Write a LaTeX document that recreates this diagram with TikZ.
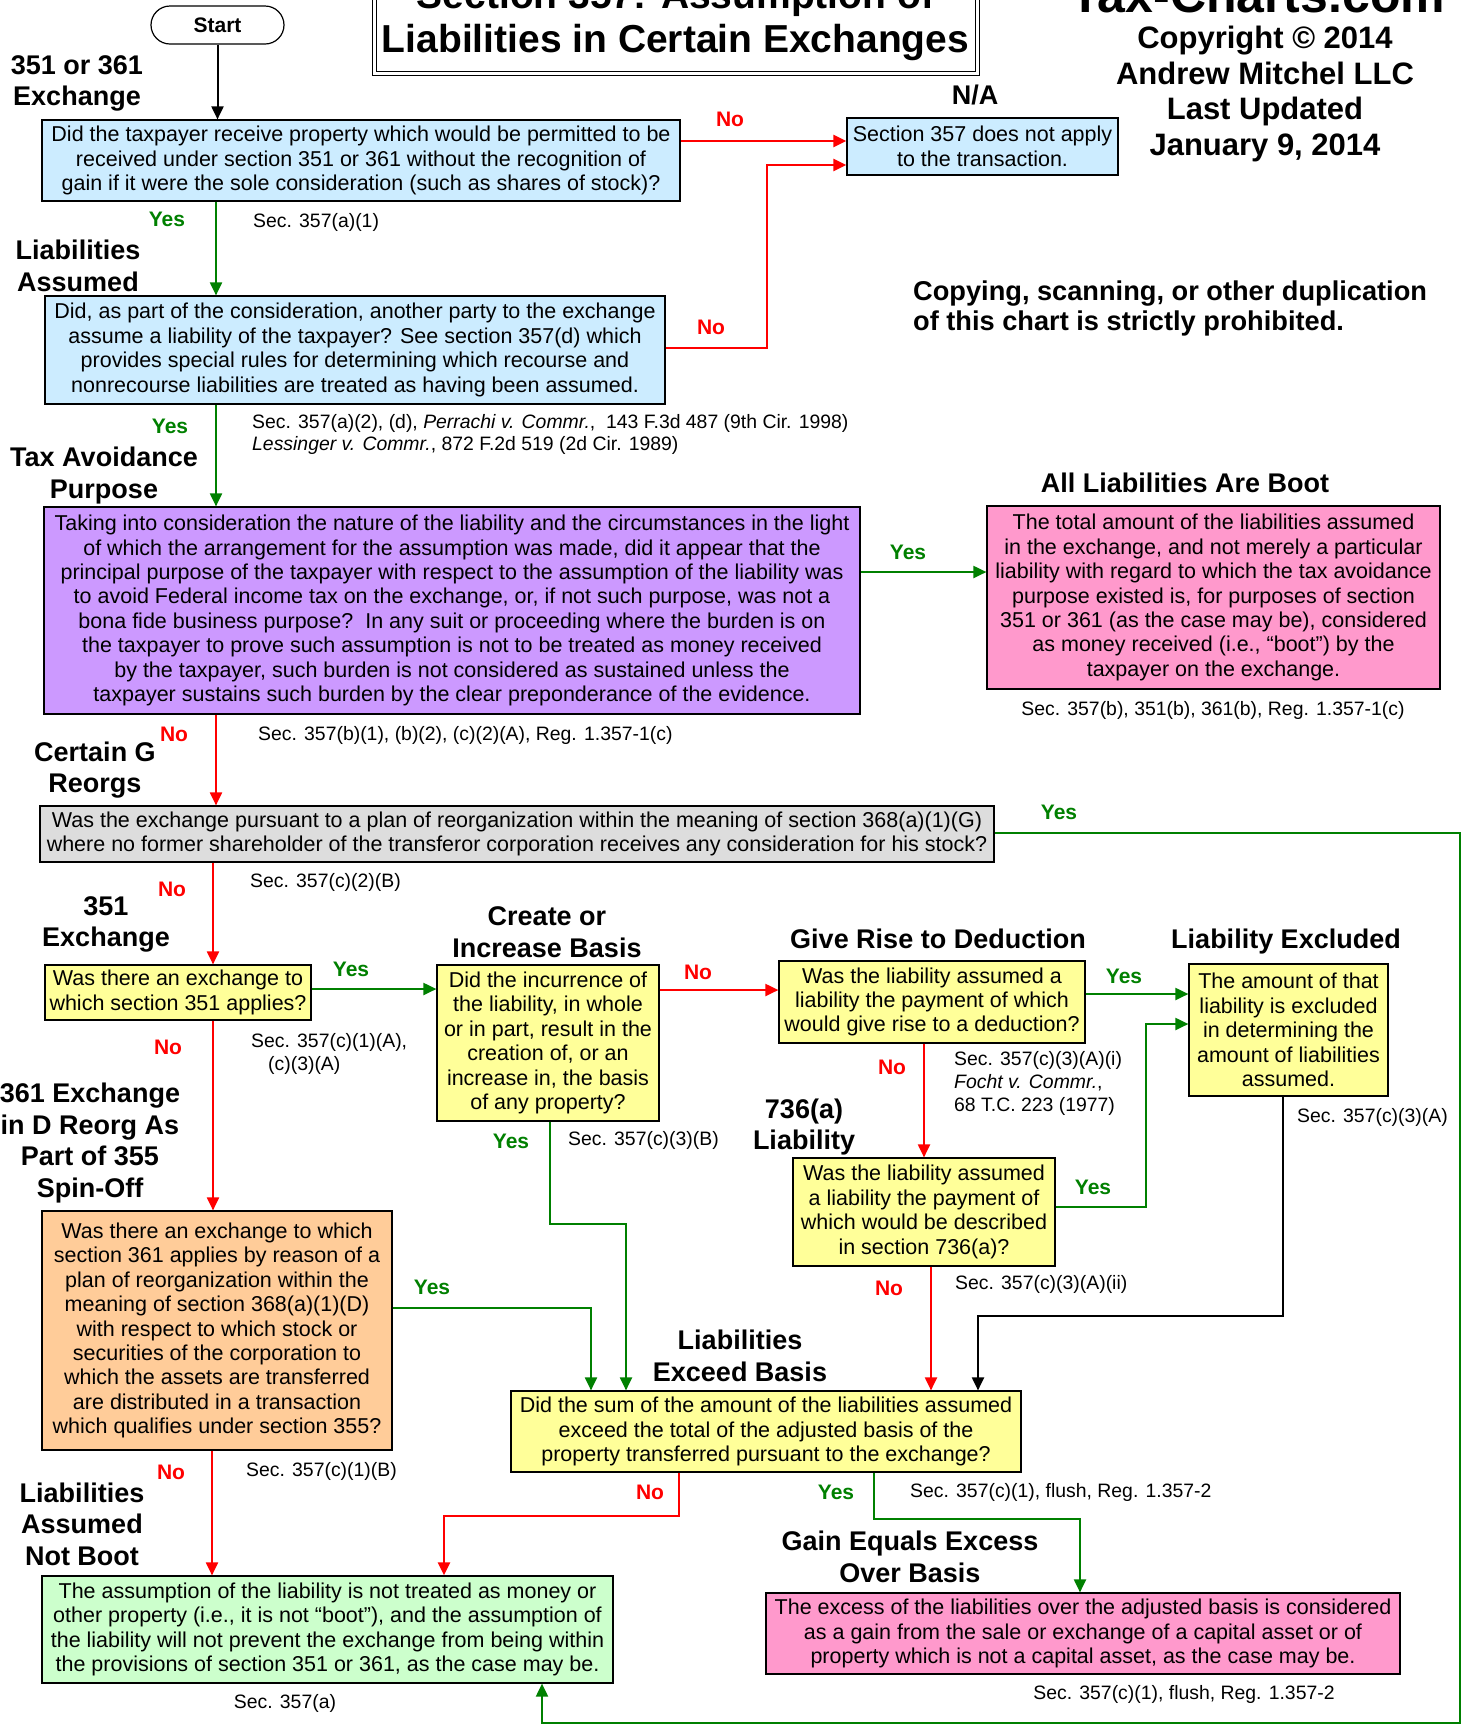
\documentclass[tikz,border=0pt]{standalone}
\usepackage{fontspec}
\setmainfont{Liberation Sans}
\usetikzlibrary{arrows.meta}
\definecolor{cblue}{HTML}{CCECFF}
\definecolor{cpurple}{HTML}{CC99FF}
\definecolor{cpink}{HTML}{FF99CC}
\definecolor{cgray}{HTML}{DDDDDD}
\definecolor{cyellow}{HTML}{FFFF99}
\definecolor{corange}{HTML}{FFCC99}
\definecolor{cgreen}{HTML}{CCFFCC}
\definecolor{lgreen}{HTML}{008000}
\definecolor{lred}{HTML}{FF0000}
\newcommand\bxf{\fontsize{21.5}{24.4}\selectfont}
\newcommand\hdf{\fontsize{27}{31.5}\selectfont\bfseries}
\newcommand\scf{\fontsize{19.4}{22.8}\selectfont}
\newcommand\ynf{\fontsize{21}{24}\selectfont\bfseries}
\begin{document}
\begin{tikzpicture}[x=1pt,y=-1pt,
 box/.style={draw=black, line width=1.2pt, align=center, inner sep=2pt, font=\bxf},
 hdr/.style={align=center, font=\hdf, inner sep=0pt},
 sec/.style={align=left, font=\scf, anchor=west, inner sep=0pt},
 secc/.style={align=center, font=\scf, inner sep=0pt},
 yes/.style={font=\ynf, text=lgreen, inner sep=0pt},
 no/.style={font=\ynf, text=lred, inner sep=0pt},
 gline/.style={draw=lgreen, line width=2pt, -{Triangle[length=13pt,width=12pt]}},
 rline/.style={draw=lred, line width=2pt, -{Triangle[length=13pt,width=12pt]}},
 kline/.style={draw=black, line width=2pt, -{Triangle[length=13pt,width=12pt]}},
]
\path[use as bounding box] (0,0) rectangle (1466,1725);
\clip (0,0) rectangle (1466,1725);
\fill[white] (0,0) rectangle (1466,1725);

% ---- title area ----
\node[draw, fill=white, double, double distance=3pt, line width=1pt, minimum width=603, minimum height=106, align=center, font=\fontsize{39}{44}\selectfont\bfseries, inner sep=0pt] (title) at (675.5,20) {Section 357: Assumption of\\Liabilities in Certain Exchanges};
\node[font=\fontsize{50}{56}\selectfont\bfseries, anchor=base, inner sep=0pt] (site) at (1258,12) {Tax-Charts.com};
\node[align=center, font=\fontsize{31}{35.7}\selectfont\bfseries, inner sep=0pt] (copy) at (1265,94) {Copyright © 2014\\Andrew Mitchel LLC\\Last Updated\\January 9, 2014};
\node[align=left, font=\fontsize{27.2}{30}\selectfont\bfseries, anchor=west, inner sep=0pt] (warn) at (913,308) {Copying, scanning, or other duplication\\of this chart is strictly prohibited.};

% ---- boxes ----
\node[draw=black, line width=1.2pt, fill=white, rounded corners=19pt, minimum width=133, minimum height=38, font=\ynf] (start) at (217.5,25) {Start};
\node[box, fill=cblue, minimum width=271, minimum height=57] (na) at (982.5,146.5) {Section 357 does not apply\\to the transaction.};
\node[box, fill=cblue, minimum width=638, minimum height=81] (b1) at (361,160.5) {Did the taxpayer receive property which would be permitted to be\\received under section 351 or 361 without the recognition of\\gain if it were the sole consideration (such as shares of stock)?};
\node[box, fill=cblue, minimum width=620, minimum height=108] (b2) at (355,350) {Did, as part of the consideration, another party to the exchange\\assume a liability of the taxpayer? See section 357(d) which\\provides special rules for determining which recourse and\\nonrecourse liabilities are treated as having been assumed.};
\node[box, fill=cpurple, minimum width=816, minimum height=207] (b3) at (452,610.5) {Taking into consideration the nature of the liability and the circumstances in the light\\of which the arrangement for the assumption was made, did it appear that the\\principal purpose of the taxpayer with respect to the assumption of the liability was\\to avoid Federal income tax on the exchange, or, if not such purpose, was not a\\bona fide business purpose?\ \ In any suit or proceeding where the burden is on\\the taxpayer to prove such assumption is not to be treated as money received\\by the taxpayer, such burden is not considered as sustained unless the\\taxpayer sustains such burden by the clear preponderance of the evidence.};
\node[box, fill=cpink, minimum width=453, minimum height=183] (boot) at (1213.5,597.5) {The total amount of the liabilities assumed\\in the exchange, and not merely a particular\\liability with regard to which the tax avoidance\\purpose existed is, for purposes of section\\351 or 361 (as the case may be), considered\\as money received (i.e., “boot”) by the\\taxpayer on the exchange.};
\node[box, fill=cgray, minimum width=954, minimum height=56] (g) at (517,834) {Was the exchange pursuant to a plan of reorganization within the meaning of section 368(a)(1)(G)\\where no former shareholder of the transferor corporation receives any consideration for his stock?};
\node[box, fill=cyellow, minimum width=266, minimum height=55] (s351) at (178,992.5) {Was there an exchange to\\which section 351 applies?};
\node[box, fill=cyellow, minimum width=222, minimum height=156] (cib) at (548,1043) {Did the incurrence of\\the liability, in whole\\or in part, result in the\\creation of, or an\\increase in, the basis\\of any property?};
\node[box, fill=cyellow, minimum width=306, minimum height=82] (grd) at (932,1002) {Was the liability assumed a\\liability the payment of which\\would give rise to a deduction?};
\node[box, fill=cyellow, minimum width=199, minimum height=132] (le) at (1288.5,1030) {The amount of that\\liability is excluded\\in determining the\\amount of liabilities\\assumed.};
\node[box, fill=cyellow, minimum width=262, minimum height=108] (l736) at (924,1212) {Was the liability assumed\\a liability the payment of\\which would be described\\in section 736(a)?};
\node[box, fill=corange, minimum width=350, minimum height=239] (d361) at (217,1330.5) {Was there an exchange to which\\section 361 applies by reason of a\\plan of reorganization within the\\meaning of section 368(a)(1)(D)\\with respect to which stock or\\securities of the corporation to\\which the assets are transferred\\are distributed in a transaction\\which qualifies under section 355?};
\node[box, fill=cyellow, minimum width=510, minimum height=81] (leb) at (766,1431.5) {Did the sum of the amount of the liabilities assumed\\exceed the total of the adjusted basis of the\\property transferred pursuant to the exchange?};
\node[box, fill=cpink, minimum width=634, minimum height=81] (gain) at (1083,1633.5) {The excess of the liabilities over the adjusted basis is considered\\as a gain from the sale or exchange of a capital asset or of\\property which is not a capital asset, as the case may be.};
\node[box, fill=cgreen, minimum width=571, minimum height=107] (nb) at (327.5,1629.5) {The assumption of the liability is not treated as money or\\other property (i.e., it is not “boot”), and the assumption of\\the liability will not prevent the exchange from being within\\the provisions of section 351 or 361, as the case may be.};

% ---- headers ----
\node[hdr] (hna) at (975,95) {N/A};
\node[hdr] (h1) at (77,83.5) {351 or 361\\Exchange};
\node[hdr] (h2) at (78,266) {Liabilities\\Assumed};
\node[hdr] (h3) at (104,475.5) {Tax Avoidance\\Purpose};
\node[hdr] (h4) at (1185,483) {All Liabilities Are Boot};
\node[hdr] (h5) at (95,770) {Certain G\\Reorgs};
\node[hdr] (h6) at (106,924.5) {351\\Exchange};
\node[hdr] (h7) at (547,932) {Create or\\Increase Basis};
\node[hdr] (h8) at (938,939) {Give Rise to Deduction};
\node[hdr] (h9) at (1286,942) {Liability Excluded};
\node[hdr] (h10) at (804,1127) {736(a)\\Liability};
\node[hdr] (h11) at (90,1143) {361 Exchange\\in D Reorg As\\Part of 355\\Spin-Off};
\node[hdr] (h12) at (740,1356) {Liabilities\\Exceed Basis};
\node[hdr] (h13) at (82,1524) {Liabilities\\Assumed\\Not Boot};
\node[hdr] (h14) at (910,1557) {Gain Equals Excess\\Over Basis};

% ---- citations ----
\node[sec] (c1) at (253,222) {Sec. 357(a)(1)};
\node[sec] (c2) at (252,434.5) {Sec. 357(a)(2), (d), \textit{Perrachi v. Commr.},\ \ 143 F.3d 487 (9th Cir. 1998)\\\textit{Lessinger v. Commr.}, 872 F.2d 519 (2d Cir. 1989)};
\node[secc] (c3) at (1213,710) {Sec. 357(b), 351(b), 361(b), Reg. 1.357-1(c)};
\node[sec] (c4) at (258,735) {Sec. 357(b)(1), (b)(2), (c)(2)(A), Reg. 1.357-1(c)};
\node[sec] (c5) at (250,882) {Sec. 357(c)(2)(B)};
\node[sec] (c6) at (251,1054) {Sec. 357(c)(1)(A),\\\hspace{17pt}(c)(3)(A)};
\node[sec] (c7) at (568,1140) {Sec. 357(c)(3)(B)};
\node[sec] (c8) at (954,1083.5) {Sec. 357(c)(3)(A)(i)\\\textit{Focht v. Commr.},\\68 T.C. 223 (1977)};
\node[sec] (c9) at (1297,1117) {Sec. 357(c)(3)(A)};
\node[sec] (c10) at (955,1284) {Sec. 357(c)(3)(A)(ii)};
\node[sec] (c11) at (246,1471) {Sec. 357(c)(1)(B)};
\node[sec] (c12) at (910,1492) {Sec. 357(c)(1), flush, Reg. 1.357-2};
\node[secc] (c13) at (1184,1694) {Sec. 357(c)(1), flush, Reg. 1.357-2};
\node[secc] (c14) at (285,1703) {Sec. 357(a)};

% ---- yes / no labels ----
\node[no] (n1) at (730,119) {No};
\node[no] (n2) at (711,327) {No};
\node[yes] (y1) at (167,219) {Yes};
\node[yes] (y2) at (170,426) {Yes};
\node[yes] (y3) at (908,552) {Yes};
\node[no] (n3) at (174,734) {No};
\node[yes] (y4) at (1059,812) {Yes};
\node[no] (n4) at (172,889) {No};
\node[yes] (y5) at (351,969) {Yes};
\node[no] (n5) at (168,1047) {No};
\node[no] (n6) at (698,972) {No};
\node[yes] (y6) at (1124,976) {Yes};
\node[no] (n7) at (892,1067) {No};
\node[yes] (y7) at (1093,1187) {Yes};
\node[no] (n8) at (889,1288) {No};
\node[yes] (y8) at (511,1141) {Yes};
\node[yes] (y9) at (432,1287) {Yes};
\node[no] (n9) at (171,1472) {No};
\node[no] (n10) at (650,1492) {No};
\node[yes] (y10) at (836,1492) {Yes};

% ---- connectors ----
\draw[kline] (start.south) -- (start.south |- b1.north);
\draw[rline, line width=2.6pt] (b1.east |- 0,141) -- (na.west |- 0,141);
\draw[rline, line width=2.6pt] (b2.east |- 0,348) -- (767,348) -- (767,165) -- (na.west |- 0,165);
\draw[gline] (b1.south -| 216,0) -- (b2.north -| 216,0);
\draw[gline] (b2.south -| 216,0) -- (b3.north -| 216,0);
\draw[gline] (b3.east |- 0,572) -- (boot.west |- 0,572);
\draw[rline] (b3.south -| 216,0) -- (g.north -| 216,0);
\draw[gline] (g.east |- 0,833) -- (1460,833) -- (1460,1723) -- (542,1723) -- (nb.south -| 542,0);
\draw[rline] (g.south -| 213,0) -- (s351.north -| 213,0);
\draw[gline] (s351.east |- 0,989) -- (cib.west |- 0,989);
\draw[rline] (s351.south -| 213,0) -- (d361.north -| 213,0);
\draw[rline] (cib.east |- 0,990) -- (grd.west |- 0,990);
\draw[gline] (grd.east |- 0,994) -- (le.west |- 0,994);
\draw[rline] (grd.south -| 924,0) -- (l736.north -| 924,0);
\draw[gline] (l736.east |- 0,1207) -- (1146,1207) -- (1146,1024) -- (le.west |- 0,1024);
\draw[kline] (le.south -| 1283,0) -- (1283,1316) -- (978,1316) -- (leb.north -| 978,0);
\draw[rline] (l736.south -| 931,0) -- (leb.north -| 931,0);
\draw[gline] (cib.south -| 550,0) -- (550,1224) -- (626,1224) -- (leb.north -| 626,0);
\draw[gline] (d361.east |- 0,1308) -- (591,1308) -- (leb.north -| 591,0);
\draw[rline, line width=2.6pt] (leb.south -| 679,0) -- (679,1516) -- (444,1516) -- (nb.north -| 444,0);
\draw[gline] (leb.south -| 874,0) -- (874,1519) -- (1080,1519) -- (gain.north -| 1080,0);
\draw[rline] (d361.south -| 212,0) -- (nb.north -| 212,0);
\end{tikzpicture}
\end{document}
